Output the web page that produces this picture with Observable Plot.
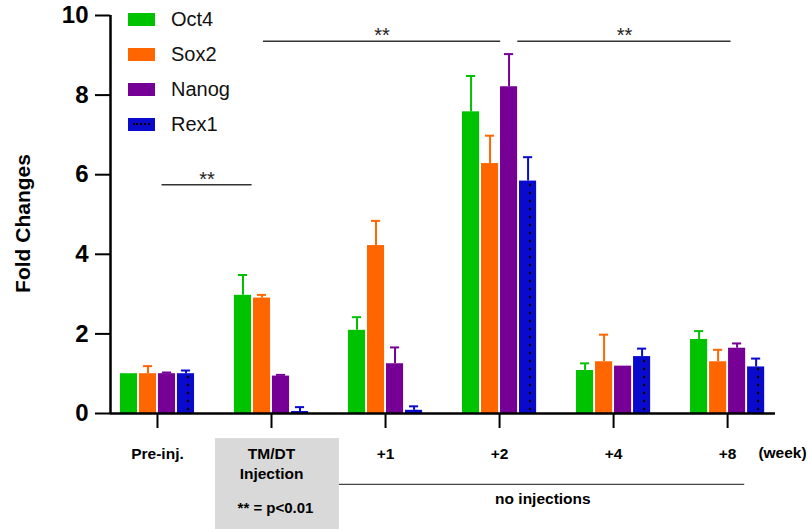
<!DOCTYPE html>
<html>
<head>
<meta charset="utf-8">
<script src="https://cdn.jsdelivr.net/npm/d3@7"></script>
<script src="https://cdn.jsdelivr.net/npm/@observablehq/plot@0.6"></script>
<style>
  body { margin: 0; background: #fff; }
  #wrap { position: relative; width: 808px; height: 529px; font-family: "Liberation Sans", Arial, sans-serif; }
  #legend { position: absolute; left: 128px; top: 2px; }
  .row { display: flex; align-items: center; height: 35px; font-size: 20px; color: #111; }
  .sw { width: 27px; height: 13px; margin-right: 16px; position: relative; box-sizing: border-box; }
  .dots { position: absolute; left: 5px; right: 5px; top: 5px; border-top: 2px dotted #000; }
</style>
</head>
<body>
<div id="wrap"><div id="legend"></div></div>
<script>
const categories = ["Pre-inj.", "TM/DT\nInjection", "+1", "+2", "+4", "+8"];
const series = ["Oct4", "Sox2", "Nanog", "Rex1"];
const colors = ["#00C300", "#FF6600", "#760096", "#0A0ACD"];

const oct4     = [1.00, 2.97, 2.09, 7.58, 1.08, 1.86];
const oct4Err  = [0.00, 0.51, 0.33, 0.90, 0.18, 0.21];
const sox2     = [1.00, 2.90, 4.22, 6.28, 1.30, 1.30];
const sox2Err  = [0.19, 0.08, 0.62, 0.70, 0.68, 0.30];
const nanog    = [1.00, 0.94, 1.25, 8.21, 1.19, 1.64];
const nanogErr = [0.03, 0.03, 0.41, 0.82, 0.00, 0.12];
const rex1     = [1.00, 0.05, 0.08, 5.84, 1.43, 1.17];
const rex1Err  = [0.08, 0.11, 0.10, 0.60, 0.20, 0.21];

const values = [oct4, sox2, nanog, rex1];
const errors = [oct4Err, sox2Err, nanogErr, rex1Err];

// significance comparisons (annotation layout)
const sigLines = [
  {x1: 0.04, x2: 0.83, y: 5.75, label: "**"},
  {x1: 0.93, x2: 3.01, y: 9.35, label: "**"},
  {x1: 3.16, x2: 5.03, y: 9.35, label: "**"}
];

const sp = 0.1667, halfW = 0.075, capW = 0.04;
const rows = categories.flatMap((c, i) => series.map((s, j) => ({
  i, j, s, v: values[j][i], e: errors[j][i], cx: i + (j - 1.5) * sp
})));
const withErr = rows.filter(d => d.e > 0);
const rexRows = rows.filter(d => d.s === "Rex1");

const FONT = "Liberation Sans, Arial, sans-serif";
const xDomain = [-0.412, 5.42];

const plot = Plot.plot({
  width: 808, height: 529,
  marginLeft: 110, marginRight: 33, marginTop: 15, marginBottom: 116,
  style: {fontFamily: FONT, color: "#000", background: "#fff"},
  x: {domain: xDomain},
  y: {domain: [0, 10]},
  color: {domain: series, range: colors},
  marks: [
    // bottom annotations
    Plot.rect([0], {x1: 0.509, x2: 1.596, y1: -0.63, y2: -3.2, fill: "#d9d9d9"}),
    Plot.ruleY([0], {x1: 1.596, x2: 5.15, y: -1.78, stroke: "#444", strokeWidth: 1.3}),
    Plot.text(["** = p<0.01"], {x: 1.035, y: -2.39, fontSize: 15, fontWeight: "bold"}),
    Plot.text(["no injections"], {x: 3.38, y: -2.16, fontSize: 15.5, fontWeight: "bold"}),
    Plot.text(["(week)"], {x: 5.27, y: -1.005, textAnchor: "start", fontSize: 15.5, fontWeight: "bold"}),
    // bars
    Plot.rect(rows, {x1: d => d.cx - halfW, x2: d => d.cx + halfW, y1: 0, y2: "v", fill: "s"}),
    Plot.rect(rexRows, {x1: d => d.cx - halfW, x2: d => d.cx + halfW, y1: 0, y2: "v", fill: "url(#rexdots)"}),
    // error bars
    Plot.ruleX(withErr, {x: "cx", y1: "v", y2: d => d.v + d.e, stroke: "s", strokeWidth: 2}),
    Plot.ruleY(withErr, {x1: d => d.cx - capW, x2: d => d.cx + capW, y: d => d.v + d.e, stroke: "s", strokeWidth: 2}),
    // significance
    Plot.ruleY(sigLines, {x1: "x1", x2: "x2", y: "y", stroke: "#333", strokeWidth: 1.5}),
    Plot.text(sigLines, {x: d => (d.x1 + d.x2) / 2, y: "y", text: "label", lineAnchor: "bottom", dy: 1, fontSize: 20, fill: "#222"}),
    // axes
    Plot.axisY({ticks: [0, 2, 4, 6, 8, 10], tickSize: 15, tickPadding: 7, fontSize: 24, fontWeight: "bold", strokeWidth: 2, label: null}),
    Plot.axisX({ticks: [0, 1, 2, 3, 4, 5], tickFormat: i => categories[i], tickSize: 15, tickPadding: 17,
      fontSize: 15.5, fontWeight: "bold", lineHeight: 1.25, strokeWidth: 2, label: null}),
    Plot.ruleY([0], {stroke: "#000", strokeWidth: 2.5}),
    Plot.ruleX([xDomain[0]], {y1: 0, y2: 10, stroke: "#000", strokeWidth: 2.5}),
    Plot.text(["Fold Changes"], {frameAnchor: "left", textAnchor: "middle", dx: -87, dy: 9, rotate: -90, fontSize: 21, fontWeight: "bold"})
  ]
});

// dotted pattern for Rex1 bars
const sx = plot.scale("x"), sy = plot.scale("y");
const step = sx.apply(1) - sx.apply(0);
const left0 = sx.apply(1.5 * sp - halfW);
const defs = d3.select(plot).insert("defs", ":first-child");
const pat = defs.append("pattern").attr("id", "rexdots").attr("patternUnits", "userSpaceOnUse")
  .attr("x", left0).attr("y", sy.apply(0)).attr("width", step).attr("height", 8);
pat.append("circle").attr("cx", 11).attr("cy", 4).attr("r", 1.3).attr("fill", "#000");

document.getElementById("wrap").prepend(plot);

// legend
const legend = d3.select("#legend");
series.forEach((s, j) => {
  const row = legend.append("div").attr("class", "row");
  const sw = row.append("div").attr("class", "sw").style("background", colors[j]);
  if (s === "Rex1") sw.append("div").attr("class", "dots");
  row.append("span").text(s);
});
</script>
</body>
</html>
